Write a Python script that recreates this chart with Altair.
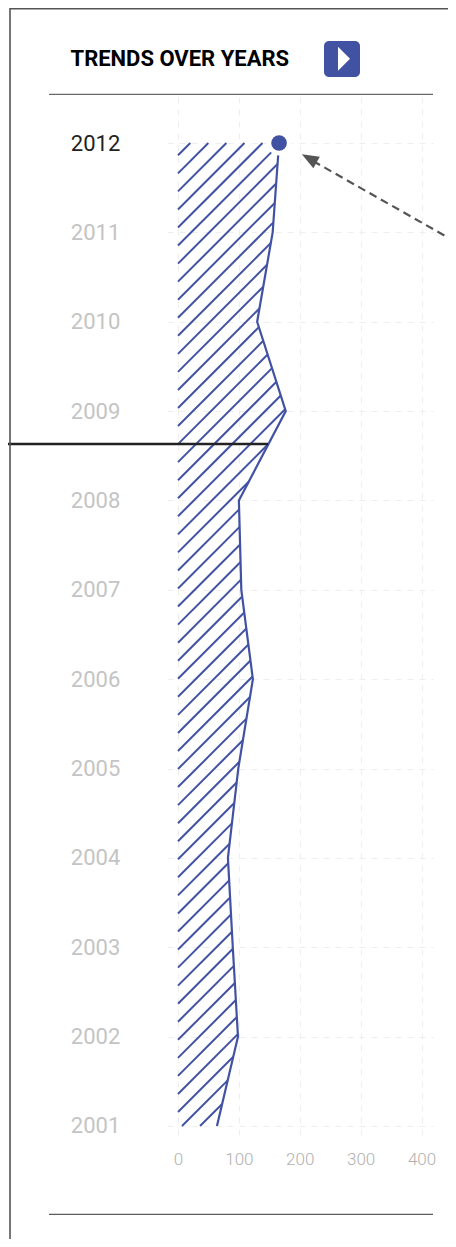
import altair as alt
import pandas as pd

years = [2012, 2011, 2010, 2009, 2008, 2007, 2006, 2005, 2004, 2003, 2002, 2001]
values = [166, 155.5, 130, 177, 100, 104, 123, 99, 82, 90, 98.5, 64]
x_ticks = [0, 100, 200, 300, 400]
title_text = "TRENDS OVER YEARS"

BLUE = "#4252a3"
GREY = "#555555"
LEFT, TOP = 167, 97      # page position of the plot area
W, H = 266, 1039
SVG_TOP, SVG_BOTTOM, SVG_RIGHT = 8, 1239, 448
PAD = dict(left=LEFT - 8, top=TOP - SVG_TOP, right=SVG_RIGHT - LEFT - W, bottom=SVG_BOTTOM - TOP - H)
PX_X = 0.6088
PX_Y = 89.36
XDOM = [-11 / PX_X, (W - 11) / PX_X]
YDOM = [2001 - 10 / PX_Y, 2012 + 46 / PX_Y]
xs = alt.Scale(domain=XDOM, nice=False, zero=False)
ys = alt.Scale(domain=YDOM, nice=False, zero=False)


def px(v):
    return 178 + v * PX_X


def py(y):
    return 143 + (2012 - y) * PX_Y


# 45-degree hatching of the area under the line, in the style of the reference
hatch = []
poly = [(px(v), py(y)) for v, y in zip(values, years)]
y0 = 155.3
STEP = 18.05
while y0 < 1160:
    sx, sy = 178, y0
    if y0 > 1126:
        sx, sy = 178 + y0 - 1126, 1126
    c = y0 + 178
    ex = ey = None
    if c < poly[0][0] + poly[0][1]:
        ey, ex = 143, c - 143
    else:
        for (ax, ay), (bx, by) in zip(poly, poly[1:]):
            fa, fb = ax + ay - c, bx + by - c
            if fa <= 0 <= fb and fa != fb:
                t = -fa / (fb - fa)
                ex, ey = ax + t * (bx - ax), ay + t * (by - ay)
                break
    if ex is not None:
        hatch.append({
            "x": (sx - 178) / PX_X, "x2": (ex - 178) / PX_X,
            "y": 2012 - (sy - 143) / PX_Y, "y2": 2012 - (ey - 143) / PX_Y,
        })
    y0 += STEP
hatch_df = pd.DataFrame(hatch)
df = pd.DataFrame({"year": years, "value": values})
one = pd.DataFrame({"a": [0]})


def vx(p):
    return alt.value(p - LEFT)


def vy(p):
    return alt.value(p - TOP)


base_x = alt.X(
    "value:Q", scale=xs, title=None,
    axis=alt.Axis(
        values=x_ticks, format="d", grid=True, gridColor="#eeeeee", gridDash=[6, 6], gridWidth=1,
        domain=False, ticks=False, labelFont="Roboto", labelFontSize=17, labelFontWeight=300,
        labelColor="#b0b0b0", labelPadding=15, labelFlush=False,
    ),
)
base_y = alt.Y(
    "year:Q", scale=ys, title=None,
    axis=alt.Axis(
        values=years, format="d", grid=True, gridColor="#eeeeee", gridDash=[6, 6], gridWidth=1,
        domain=False, ticks=False, labelFont="Roboto", labelFontSize=22, labelAlign="left",
        labelPadding=96.7, labelFlush=False,
        labelColor=alt.ExprRef("datum.value == 2012 ? '#222222' : '#c4c4c4'"),
    ),
)

line = alt.Chart(df).mark_line(color=BLUE, strokeWidth=2.2).encode(x=base_x, y=base_y, order=alt.Order("year:Q"))

hatch_l = alt.Chart(hatch_df).mark_rule(color=BLUE, strokeWidth=2).encode(
    x=alt.X("x:Q", scale=xs), x2="x2:Q", y=alt.Y("y:Q", scale=ys), y2="y2:Q"
)

top = df[df.year == 2012]
halo = alt.Chart(top).mark_point(filled=True, color="white", opacity=1, size=625).encode(
    x=alt.X("value:Q", scale=xs), y=alt.Y("year:Q", scale=ys)
)
dot = alt.Chart(top).mark_point(filled=True, color=BLUE, opacity=1, size=246).encode(
    x=alt.X("value:Q", scale=xs), y=alt.Y("year:Q", scale=ys)
)

pointer = alt.Chart(one).mark_rule(color="#222222", strokeWidth=2.4).encode(
    x=vx(8), x2=vx(268), y=vy(444)
)
arrow = alt.Chart(one).mark_rule(color=GREY, strokeWidth=2.2, strokeDash=[8, 5]).encode(
    x=vx(313), x2=vx(470), y=vy(161), y2=vy(250)
)
arrow_head = alt.Chart(one).mark_point(
    filled=True, color=GREY, opacity=1, size=289, angle=299.4, shape="M0,-1L-0.78,1L0.78,1Z"
).encode(x=vx(309.2), y=vy(158.3))

title = alt.Chart(one).mark_text(
    text=title_text, font="Roboto", fontWeight="bold", fontSize=22, color="#000000",
    align="left", baseline="alphabetic",
).encode(x=vx(70.5), y=vy(65.5))
button = alt.Chart(one).mark_rect(color=BLUE, cornerRadius=5).encode(
    x=vx(324), x2=vx(360), y=vy(41), y2=vy(77)
)
button_tri = alt.Chart(one).mark_point(
    filled=True, color="white", opacity=1, size=576, shape="M-0.5,-1L0.5,0L-0.5,1Z"
).encode(x=vx(344), y=vy(58.7))

rule_top = alt.Chart(one).mark_rule(color="#444444", strokeWidth=1).encode(
    x=vx(49), x2=vx(433), y=vy(94.3)
)
rule_bottom = alt.Chart(one).mark_rule(color="#333333", strokeWidth=1).encode(
    x=vx(49), x2=vx(433), y=vy(1214.3)
)
border_left = alt.Chart(one).mark_rule(color=GREY, strokeWidth=1.6).encode(
    x=vx(10), y=vy(SVG_TOP), y2=vy(SVG_BOTTOM)
)
border_top = alt.Chart(one).mark_rule(color=GREY, strokeWidth=1.6).encode(
    x=vx(10), x2=vx(SVG_RIGHT), y=vy(SVG_TOP + 0.8)
)

chart = alt.layer(
    line, hatch_l, halo, dot, arrow, arrow_head, pointer, title, button, button_tri,
    rule_top, rule_bottom, border_left, border_top,
).properties(
    width=W, height=H, padding=PAD, background="white",
    autosize=alt.AutoSizeParams(type="none"),
).configure_view(stroke=None)

chart.save("out.html", embed_options={"renderer": "svg", "actions": False})
